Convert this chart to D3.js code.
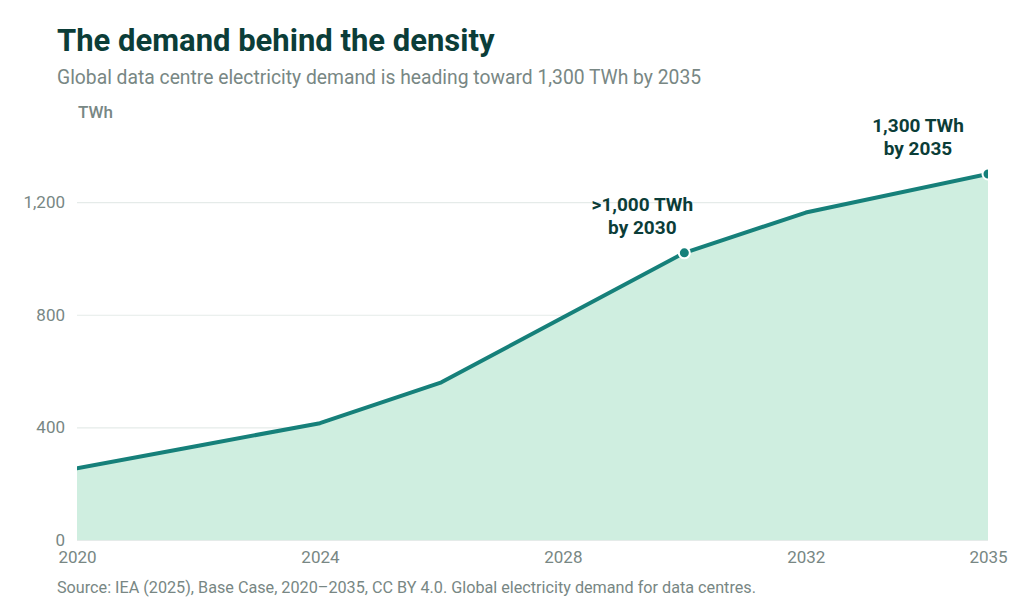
<!DOCTYPE html>
<html>
<head>
<meta charset="utf-8">
<script src="https://cdn.jsdelivr.net/npm/d3@7"></script>
<style>
  body { margin: 0; background: #fff; font-family: Roboto, "Noto Sans", sans-serif; }
  svg text { font-family: Roboto, "Noto Sans", sans-serif; }
</style>
</head>
<body>
<div id="chart"></div>
<script>
// data (TWh)
const years = [2020, 2022, 2024, 2026, 2028, 2030, 2032, 2035];
const demand = [255, 335, 415, 560, 790, 1020, 1163, 1300];
const yTicks = [0, 400, 800, 1200];
const xTicks = [2020, 2024, 2028, 2032, 2035];
const callouts = [
  { year: 2030, value: 1020, lines: ['>1,000 TWh', 'by 2030'] },
  { year: 2035, value: 1300, lines: ['1,300 TWh', 'by 2035'] },
];

const width = 1024, height = 614;
const margin = { top: 174, right: 36, bottom: 74, left: 77 };
const innerW = width - margin.left - margin.right;
const innerH = height - margin.top - margin.bottom;

const dark = '#0b3d38';
const grey = '#788784';
const teal = '#16807a';
const fill = '#cfeee0';

const data = years.map((y, i) => ({ year: y, value: demand[i] }));

const svg = d3.select('#chart')
  .append('svg')
  .attr('width', width)
  .attr('height', height);

// headings
svg.append('text')
  .attr('x', 57).attr('y', 51)
  .style('font-size', '31px').style('font-weight', 700)
  .style('fill', dark)
  .text('The demand behind the density');

svg.append('text')
  .attr('x', 57).attr('y', 84)
  .style('font-size', '19.3px')
  .style('fill', grey)
  .text('Global data centre electricity demand is heading toward 1,300 TWh by 2035');

svg.append('text')
  .attr('x', 78).attr('y', 118)
  .style('font-size', '17px').style('font-weight', 500)
  .style('fill', grey)
  .text('TWh');

const x = d3.scaleLinear()
  .domain([2020, 2035])
  .range([0, innerW]);

const y = d3.scaleLinear()
  .domain([0, 1300])
  .range([innerH, 0]);

const chart = svg.append('g')
  .attr('transform', `translate(${margin.left},${margin.top})`);

svg.append('defs').append('clipPath')
  .attr('id', 'plot-clip')
  .append('rect')
  .attr('x', 0).attr('y', -margin.top)
  .attr('width', innerW).attr('height', innerH + margin.top);

// grid
const yGrid = d3.axisRight(y).tickValues(yTicks).tickSize(innerW).tickFormat('');
chart.append('g')
  .attr('class', 'y-grid')
  .call(yGrid)
  .call(g => g.select('.domain').remove())
  .selectAll('line')
  .attr('stroke', '#e5ebe9')
  .attr('stroke-width', 1.2);

// y axis labels
const yAxis = d3.axisLeft(y).tickValues(yTicks).tickSize(0).tickPadding(12)
  .tickFormat(d3.format(','));
chart.append('g')
  .call(yAxis)
  .call(g => g.select('.domain').remove())
  .selectAll('text')
  .style('font-size', '17px')
  .style('fill', grey);

// x axis labels
const xAxis = d3.axisBottom(x).tickValues(xTicks).tickSize(0).tickPadding(11)
  .tickFormat(d3.format('d'));
chart.append('g')
  .attr('transform', `translate(0,${innerH})`)
  .call(xAxis)
  .call(g => g.select('.domain').remove())
  .selectAll('text')
  .style('font-size', '17px')
  .style('fill', grey);

const plot = chart.append('g').attr('clip-path', 'url(#plot-clip)');

const area = d3.area()
  .x(d => x(d.year))
  .y0(y(0))
  .y1(d => y(d.value));

const line = d3.line()
  .x(d => x(d.year))
  .y(d => y(d.value));

plot.append('path')
  .datum(data)
  .attr('d', area)
  .attr('fill', fill);

plot.append('path')
  .datum(data)
  .attr('d', line)
  .attr('fill', 'none')
  .attr('stroke', teal)
  .attr('stroke-width', 4)
  .attr('stroke-linejoin', 'round')
  .attr('stroke-linecap', 'round');

plot.selectAll('.dot')
  .data(callouts)
  .enter()
  .append('circle')
  .attr('class', 'dot')
  .attr('cx', d => x(d.year))
  .attr('cy', d => y(d.value))
  .attr('r', 5.5)
  .attr('fill', teal)
  .attr('stroke', '#fff')
  .attr('stroke-width', 2);

// callout labels
const labels = chart.selectAll('.callout')
  .data(callouts)
  .enter()
  .append('text')
  .attr('class', 'callout')
  .attr('text-anchor', 'middle')
  .attr('x', d => x(d.year) - (d.year === 2035 ? 70 : 42))
  .attr('y', d => y(d.value) - 42)
  .style('font-size', '19px')
  .style('font-weight', 700)
  .style('fill', dark);

labels.selectAll('tspan')
  .data(d => d.lines)
  .enter()
  .append('tspan')
  .attr('x', function () { return d3.select(this.parentNode).attr('x'); })
  .attr('dy', (d, i) => i === 0 ? 0 : 23)
  .text(d => d);

// source
svg.append('text')
  .attr('x', 57).attr('y', 593)
  .style('font-size', '16.2px')
  .style('fill', grey)
  .text('Source: IEA (2025), Base Case, 2020\u20132035, CC BY 4.0. Global electricity demand for data centres.');
</script>
</body>
</html>
